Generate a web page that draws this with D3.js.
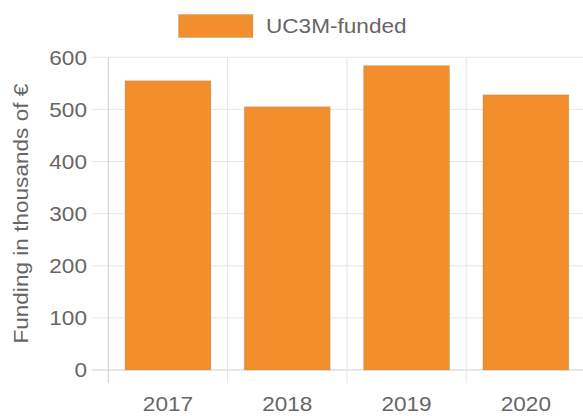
<!doctype html>
<html>
<head>
  <meta charset="UTF-8">
  <style>
    body { margin: 0; background: #fff; }
    svg { display: block; font-family: "Liberation Sans", Arial, sans-serif; }
    .tick-label { fill: #666; font-size: 20px; }
  </style>
  <script src="https://d3js.org/d3.v7.min.js"></script>
</head>
<body>
<svg width="583" height="416"></svg>
<script>
// chart data
const years = ["2017", "2018", "2019", "2020"];
const funded = [555, 505, 584, 528];
const yTicks = [0, 100, 200, 300, 400, 500, 600];
const seriesName = "UC3M-funded";

const orange = "#f28e2b";
const stretch = 1.13; // reference text is a little wide
const svg = d3.select("svg");

const plotLeft = 108.3, plotRight = 585.5, plotTop = 57.3, plotBottom = 370;

const x = d3.scaleBand().domain(years).range([plotLeft, plotRight])
    .paddingInner(0.28).paddingOuter(0.14);
const y = d3.scaleLinear().domain([0, 600]).range([plotBottom, plotTop]);

const step = x.step();

function place(px, py, rot) {
  return "translate(" + px + "," + py + ")" + (rot ? " rotate(" + rot + ")" : "") +
    " scale(" + stretch + ",1)";
}

// horizontal grid
svg.append("g").selectAll("line")
  .data(yTicks)
  .enter().append("line")
    .attr("x1", plotLeft - 16).attr("x2", plotRight)
    .attr("y1", d => y(d)).attr("y2", d => y(d))
    .attr("stroke", d => d === 0 ? "#cfcfcf" : "#e6e6e6")
    .attr("stroke-width", 1);

// vertical grid at category edges
const edges = years.map(d => x(d) - step * 0.14);
edges.push(plotRight);
svg.append("g").selectAll("line")
  .data(edges)
  .enter().append("line")
    .attr("x1", d => d).attr("x2", d => d)
    .attr("y1", plotTop).attr("y2", plotBottom + 13)
    .attr("stroke", (d, i) => i === 0 ? "#cfcfcf" : "#e6e6e6")
    .attr("stroke-width", 1);

// bars
svg.append("g").selectAll("rect")
  .data(years)
  .enter().append("rect")
    .attr("x", d => x(d))
    .attr("y", (d, i) => y(funded[i]))
    .attr("width", x.bandwidth())
    .attr("height", (d, i) => y(0) - y(funded[i]))
    .attr("fill", orange)
    .attr("stroke", "rgba(120,120,120,0.25)")
    .attr("stroke-width", 0.8);

// y tick labels
svg.append("g").selectAll("text")
  .data(yTicks)
  .enter().append("text")
    .attr("class", "tick-label")
    .attr("transform", d => place(87, y(d)))
    .attr("dy", "0.36em")
    .attr("text-anchor", "end")
    .text(d => d);

// x tick labels
svg.append("g").selectAll("text")
  .data(years)
  .enter().append("text")
    .attr("class", "tick-label")
    .attr("transform", d => place(x(d) + x.bandwidth() / 2, 411))
    .attr("text-anchor", "middle")
    .text(d => d);

// y axis title
svg.append("text")
  .attr("class", "tick-label")
  .attr("transform", place(21, (plotTop + plotBottom) / 2, -90))
  .attr("dy", "0.36em")
  .attr("text-anchor", "middle")
  .text("Funding in thousands of \u20ac");

// legend
svg.append("rect")
  .attr("x", 178.5).attr("y", 14.5)
  .attr("width", 74.5).attr("height", 23)
  .attr("fill", orange)
  .attr("stroke", "rgba(120,120,120,0.25)")
  .attr("stroke-width", 0.8);
svg.append("text")
  .attr("class", "tick-label")
  .attr("transform", place(266, 26))
  .attr("dy", "0.36em")
  .text(seriesName);
</script>
</body>
</html>
